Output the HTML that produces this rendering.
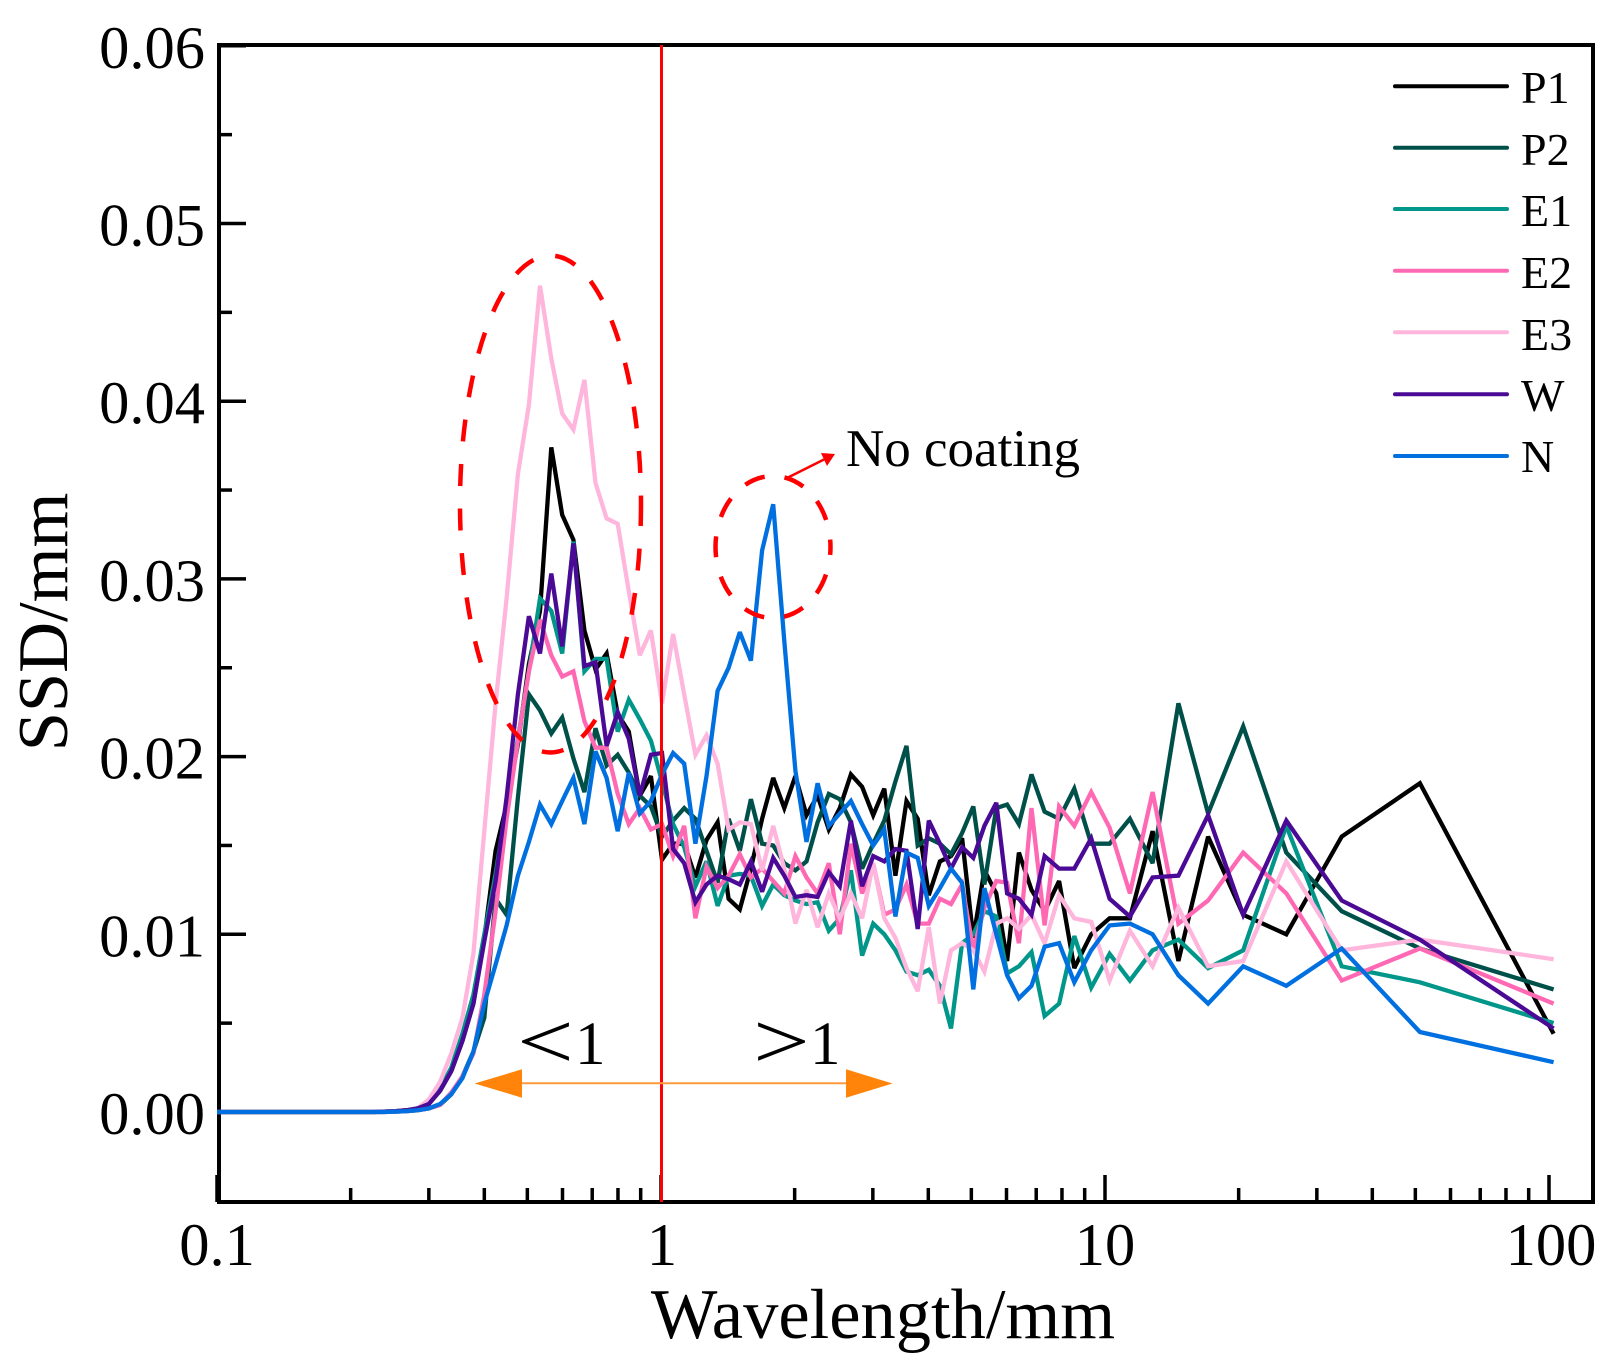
<!DOCTYPE html>
<html lang="en">
<head>
<meta charset="utf-8">
<title>SSD versus wavelength</title>
<style>
  html, body { margin: 0; padding: 0; background: #fff; }
  svg { display: block; font-family: "Liberation Serif", "Times New Roman", serif; fill: #000; }
</style>
</head>
<body>
<svg id="chart" xmlns="http://www.w3.org/2000/svg" width="1617" height="1370" viewBox="0 0 1617 1370">
  <rect x="0" y="0" width="1617" height="1370" fill="#fff"/>
  <g id="axis-layer"></g>
  <g id="series-layer"></g>

  <text x="883" y="1338" font-size="70.5" text-anchor="middle">Wavelength/mm</text>
  <text transform="translate(67,622) rotate(-90)" font-size="70.5" text-anchor="middle">SSD/mm</text>

  <line x1="661.5" y1="45" x2="661.5" y2="1202" stroke="#ff0000" stroke-width="3"/>

  <ellipse cx="550.5" cy="504" rx="90.5" ry="248.5" fill="none" stroke="#ff0000" stroke-width="4.5" stroke-dasharray="22 22.6"/>
  <ellipse cx="773" cy="547" rx="57.5" ry="71" fill="none" stroke="#ff0000" stroke-width="4.5" stroke-dasharray="21 20" stroke-dashoffset="13"/>
  <line x1="787" y1="478" x2="824" y2="459.5" stroke="#ff0000" stroke-width="2.5"/>
  <polygon points="835,454 821,453 827,466" fill="#ff0000"/>
  <text x="846" y="466" font-size="53">No coating</text>

  <g>
    <text transform="translate(517,1068) scale(1.2,0.95)" font-size="84">&lt;</text>
    <text x="575" y="1064" font-size="61">1</text>
  </g>
  <g>
    <text transform="translate(753,1068) scale(1.2,0.95)" font-size="84">&gt;</text>
    <text x="810" y="1064" font-size="61">1</text>
  </g>
  <line x1="522" y1="1083.3" x2="846" y2="1083.3" stroke="#ff9a3c" stroke-width="2"/>
  <polygon points="474.6,1083.5 522,1069.3 522,1097.7" fill="#ff8409"/>
  <polygon points="892.5,1083.5 846,1069.3 846,1097.7" fill="#ff8409"/>

  <g font-size="46">
    <g><line x1="1395" x2="1507" y1="86.3" y2="86.3" stroke="#000000" stroke-width="4" stroke-linecap="round"/><text x="1521" y="103">P1</text></g>
    <g><line x1="1395" x2="1507" y1="147.7" y2="147.7" stroke="#00504a" stroke-width="4" stroke-linecap="round"/><text x="1521" y="165">P2</text></g>
    <g><line x1="1395" x2="1507" y1="209" y2="209" stroke="#00968a" stroke-width="4" stroke-linecap="round"/><text x="1521" y="226">E1</text></g>
    <g><line x1="1395" x2="1507" y1="270.7" y2="270.7" stroke="#ff69b4" stroke-width="4" stroke-linecap="round"/><text x="1521" y="288">E2</text></g>
    <g><line x1="1395" x2="1507" y1="332.3" y2="332.3" stroke="#ffb6dc" stroke-width="4" stroke-linecap="round"/><text x="1521" y="350">E3</text></g>
    <g><line x1="1395" x2="1507" y1="394.3" y2="394.3" stroke="#4b0a96" stroke-width="4" stroke-linecap="round"/><text x="1521" y="411">W</text></g>
    <g><line x1="1395" x2="1507" y1="456" y2="456" stroke="#0070e0" stroke-width="4" stroke-linecap="round"/><text x="1521" y="472">N</text></g>
  </g>
</svg>
<script>
const wavelengths = [0.1,0.14,0.2,0.225,0.238,0.253,0.268,0.283,0.3,0.318,0.337,0.357,0.378,0.4,0.424,0.449,0.476,0.504,0.534,0.566,0.599,0.635,0.672,0.712,0.754,0.799,0.846,0.896,0.949,1.005,1.065,1.128,1.195,1.266,1.341,1.42,1.505,1.594,1.689,1.789,1.895,2.008,2.127,2.253,2.387,2.528,2.678,2.837,3.005,3.184,3.373,3.573,3.785,4.01,4.248,4.5,4.767,5.05,5.35,5.69,6.02,6.4,6.83,7.31,7.88,8.53,9.31,10.24,11.38,12.8,14.63,17.07,20.48,25.6,34.13,51.2,102.4];

const seriesP1 = [0,0,0,0,0.00002,0.00005,0.0001,0.0002,0.00045,0.0012,0.0023,0.004,0.0061,0.0098,0.0147,0.0173,0.0207,0.0252,0.0282,0.0374,0.0336,0.0322,0.0271,0.0249,0.0258,0.0224,0.0214,0.0178,0.0189,0.0142,0.0151,0.0151,0.0132,0.0153,0.0163,0.012,0.0114,0.0137,0.0165,0.0188,0.0171,0.0189,0.0167,0.0178,0.0159,0.0171,0.019,0.0183,0.0167,0.0182,0.0133,0.0175,0.0165,0.0122,0.0141,0.0144,0.0154,0.0098,0.0136,0.0123,0.0085,0.0146,0.0125,0.0113,0.013,0.0081,0.01,0.0109,0.0109,0.0158,0.0085,0.0155,0.0111,0.01,0.0155,0.0185,0.0044];
const seriesP2 = [0,0,0,0,0,0.00002,0.00005,0.0001,0.0002,0.0004,0.001,0.002,0.0034,0.0053,0.012,0.0111,0.0177,0.0235,0.0226,0.0213,0.0222,0.0199,0.018,0.0216,0.0195,0.0201,0.0191,0.0178,0.0172,0.0155,0.0164,0.0171,0.0165,0.0147,0.0129,0.0165,0.0147,0.0176,0.0151,0.015,0.014,0.0136,0.0141,0.0163,0.0179,0.0176,0.0163,0.0137,0.0151,0.0164,0.0186,0.0206,0.015,0.0154,0.0151,0.0145,0.0157,0.0172,0.0128,0.0171,0.0173,0.0162,0.019,0.0169,0.0165,0.0182,0.0151,0.0151,0.0165,0.014,0.023,0.0168,0.0217,0.0146,0.0113,0.0092,0.0069];
const seriesE1 = [0,0,0,0,0.00002,0.00005,0.0001,0.0002,0.0005,0.0013,0.0025,0.0044,0.0066,0.01,0.0134,0.0173,0.021,0.0248,0.0289,0.0282,0.0258,0.0321,0.0248,0.0255,0.0255,0.0214,0.0232,0.0221,0.0209,0.0186,0.0162,0.0149,0.0127,0.0141,0.0116,0.0133,0.0134,0.0133,0.0116,0.0128,0.0122,0.0119,0.0117,0.0118,0.0102,0.0109,0.0136,0.0088,0.0106,0.01,0.0091,0.0079,0.0077,0.008,0.0071,0.0047,0.0095,0.01,0.0113,0.011,0.0078,0.0082,0.009,0.0054,0.0061,0.0099,0.007,0.0089,0.0074,0.0091,0.0097,0.0081,0.0091,0.0161,0.0082,0.0073,0.005];
const seriesE2 = [0,0,0,0,0,0.00002,0.00005,0.0001,0.0002,0.0004,0.0011,0.002,0.0033,0.0066,0.0113,0.0165,0.0209,0.0248,0.0277,0.0257,0.0245,0.0248,0.022,0.0205,0.0205,0.0179,0.0162,0.0171,0.0159,0.0162,0.0144,0.0161,0.0109,0.0138,0.0126,0.0133,0.0145,0.0132,0.0137,0.013,0.0123,0.0144,0.0132,0.0123,0.014,0.01,0.0151,0.0123,0.014,0.0111,0.0114,0.0128,0.0106,0.0106,0.012,0.0117,0.0128,0.0091,0.0115,0.013,0.0129,0.0095,0.0171,0.0105,0.0172,0.0161,0.018,0.016,0.0123,0.018,0.0106,0.0119,0.0146,0.0123,0.0074,0.0092,0.0061];
const seriesE3 = [0,0,0,0,0.00002,0.00005,0.0001,0.0002,0.0007,0.0017,0.0033,0.0053,0.0089,0.0158,0.023,0.0289,0.0359,0.0398,0.0465,0.0424,0.0393,0.0384,0.0412,0.0354,0.0334,0.0331,0.0293,0.0257,0.0271,0.023,0.0269,0.0235,0.0201,0.0212,0.0196,0.0159,0.0163,0.0162,0.0136,0.0161,0.0137,0.0106,0.0125,0.0104,0.0123,0.0109,0.0123,0.0109,0.014,0.0109,0.0098,0.0081,0.0068,0.0104,0.0061,0.0091,0.0095,0.0091,0.0079,0.0106,0.0109,0.0103,0.0111,0.0095,0.0122,0.0109,0.0107,0.0074,0.0102,0.0082,0.0115,0.0082,0.0085,0.0141,0.0091,0.0097,0.0086];
const seriesW = [0,0,0,0,0.00002,0.00005,0.0001,0.0002,0.00045,0.0012,0.0023,0.004,0.0061,0.0096,0.013,0.0177,0.0235,0.0279,0.0258,0.0303,0.0262,0.032,0.0251,0.0253,0.0206,0.0225,0.021,0.0178,0.0201,0.0202,0.0148,0.014,0.0118,0.0128,0.0133,0.0131,0.0128,0.0141,0.0124,0.0143,0.0133,0.0121,0.0122,0.0121,0.0135,0.0127,0.0164,0.0127,0.0144,0.0141,0.0148,0.0147,0.0103,0.0164,0.0151,0.0137,0.0149,0.0143,0.0161,0.0174,0.0123,0.012,0.0111,0.0144,0.0137,0.0137,0.0154,0.012,0.011,0.0132,0.0133,0.0167,0.0111,0.0164,0.0119,0.0097,0.0047];
const seriesN = [0,0,0,0,0,0.00002,0.00005,0.0001,0.0002,0.00045,0.001,0.0019,0.0034,0.0061,0.0083,0.0105,0.0133,0.0152,0.0173,0.0162,0.0175,0.0188,0.0162,0.0203,0.0188,0.0158,0.0191,0.0168,0.0175,0.019,0.0202,0.0196,0.0151,0.0189,0.0237,0.025,0.027,0.0254,0.0316,0.0342,0.0265,0.0192,0.0152,0.0185,0.0161,0.0168,0.0175,0.0162,0.015,0.0159,0.011,0.0146,0.0143,0.0116,0.0126,0.0137,0.0129,0.0069,0.0126,0.01,0.0077,0.0064,0.0071,0.0093,0.0095,0.0073,0.0091,0.0105,0.0106,0.01,0.0077,0.0061,0.0082,0.0071,0.0092,0.0045,0.0028];

const seriesNames = ['p1','p2','e1','e2','e3','w','n'];
const seriesColors = ['#000000','#00504a','#00968a','#ff69b4','#ffb6dc','#4b0a96','#0070e0'];
const seriesValues = [seriesP1,seriesP2,seriesE1,seriesE2,seriesE3,seriesW,seriesN];

const yMajorTicks = [0,0.01,0.02,0.03,0.04,0.05,0.06];
const yMajorLabels = ['0.00','0.01','0.02','0.03','0.04','0.05','0.06'];
const yMinorTicks = [0.005,0.015,0.025,0.035,0.045,0.055];
const xMajorTicks = [0.1,1,10,100];
const xMajorLabels = ['0.1','1','10','100'];
const xMinorTicks = [0.2,0.3,0.4,0.5,0.6,0.7,0.8,0.9,2,3,4,5,6,7,8,9,20,30,40,50,60,70,80,90];

const NS = 'http://www.w3.org/2000/svg';
const xScale = function (v) { return 661 + 444 * Math.log10(v); };
const yScale = function (v) { return 1112 - 17770 * v; };

const seriesLayer = document.getElementById('series-layer');
const axisLayer = document.getElementById('axis-layer');

seriesValues.forEach(function (vals, s) {
  const pts = [];
  vals.forEach(function (v, i) {
    pts.push(xScale(wavelengths[i]).toFixed(1) + ',' + yScale(v).toFixed(1));
  });
  const pl = document.createElementNS(NS, 'polyline');
  
  
  pl.setAttribute('points', pts.join(' '));
  pl.setAttribute('fill', 'none');
  pl.setAttribute('stroke', seriesColors[s]);
  pl.setAttribute('stroke-width', '4.3');
  pl.setAttribute('stroke-linejoin', 'miter');
  pl.setAttribute('stroke-miterlimit', '3');
  seriesLayer.appendChild(pl);
});

function addTick(name, x1, y1, x2, y2) {
  const t = document.createElementNS(NS, 'line');
  
  
  t.setAttribute('x1', x1);
  t.setAttribute('y1', y1);
  t.setAttribute('x2', x2);
  t.setAttribute('y2', y2);
  t.setAttribute('stroke', '#000');
  t.setAttribute('stroke-width', '3.5');
  axisLayer.appendChild(t);
}
function addLabel(name, x, y, anchor, text) {
  const t = document.createElementNS(NS, 'text');
  
  
  t.setAttribute('x', x);
  t.setAttribute('y', y);
  t.setAttribute('text-anchor', anchor);
  t.setAttribute('font-size', '60.5');
  t.textContent = text;
  axisLayer.appendChild(t);
}

yMajorTicks.forEach(function (v, i) {
  addTick('y-major-tick', 219, yScale(v), 246, yScale(v));
  addLabel('y-tick-label', 205, yScale(v) + 22, 'end', yMajorLabels[i]);
});
yMinorTicks.forEach(function (v) {
  addTick('y-minor-tick', 219, yScale(v), 232, yScale(v));
});
xMajorTicks.forEach(function (v, i) {
  addTick('x-major-tick', xScale(v), 1202, xScale(v), 1175);
  addLabel('x-tick-label', xScale(v) + (i === 3 ? 2 : (i === 1 ? 1 : 0)), 1265, 'middle', xMajorLabels[i]);
});
xMinorTicks.forEach(function (v) {
  addTick('x-minor-tick', xScale(v), 1202, xScale(v), 1188);
});

const frame = document.createElementNS(NS, 'rect');


frame.setAttribute('x', '219');
frame.setAttribute('y', '45');
frame.setAttribute('width', '1374');
frame.setAttribute('height', '1157');
frame.setAttribute('fill', 'none');
frame.setAttribute('stroke', '#000');
frame.setAttribute('stroke-width', '4');
axisLayer.appendChild(frame);
</script>
</body>
</html>
